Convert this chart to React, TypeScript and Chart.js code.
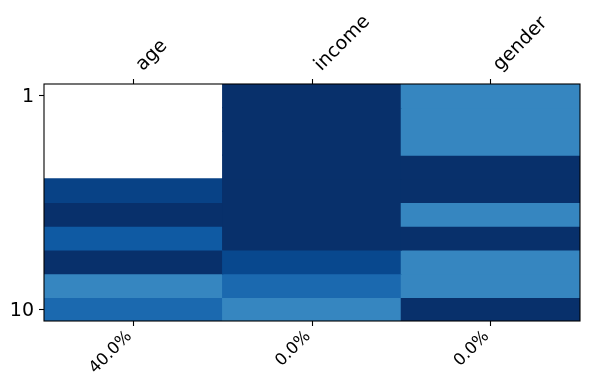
import React, { useEffect, useRef } from "react";
import { Chart, registerables } from "chart.js";

Chart.register(...registerables);

const columns = ["age", "income", "gender"];
const missingLabels = ["40.0%", "0.0%", "0.0%"];
const rowNumbers = [1, 2, 3, 4, 5, 6, 7, 8, 9, 10];
const yTickRows = [1, 10];

// normalized cell values (null = missing)
const ageValues = [null, null, null, null, 0.93, 1.0, 0.84, 1.0, 0.67, 0.78];
const incomeValues = [1.0, 1.0, 1.0, 1.0, 1.0, 1.0, 1.0, 0.91, 0.78, 0.67];
const genderValues = [0.67, 0.67, 0.67, 1.0, 1.0, 0.67, 1.0, 0.67, 0.67, 1.0];

const columnValues = [ageValues, incomeValues, genderValues];

const bluesStops = [
  "#f7fbff", "#deebf7", "#c6dbef", "#9ecae1", "#6baed6",
  "#4292c6", "#2171b5", "#08519c", "#08306b",
];

function hexToRgb(h: string) {
  const n = parseInt(h.slice(1), 16);
  return [(n >> 16) & 255, (n >> 8) & 255, n & 255];
}

function blues(v: number) {
  const t = Math.max(0, Math.min(1, v)) * (bluesStops.length - 1);
  const i = Math.min(Math.floor(t), bluesStops.length - 2);
  const f = t - i;
  const a = hexToRgb(bluesStops[i]);
  const b = hexToRgb(bluesStops[i + 1]);
  const c = a.map((x, k) => Math.round(x + (b[k] - x) * f));
  return `rgb(${c[0]},${c[1]},${c[2]})`;
}

const framePlugin = {
  id: "frame",
  afterDatasetsDraw(chart: any) {
    const { ctx, chartArea } = chart;
    ctx.save();
    ctx.strokeStyle = "#000";
    ctx.lineWidth = 1.1;
    ctx.strokeRect(chartArea.left, chartArea.top, chartArea.right - chartArea.left, chartArea.bottom - chartArea.top);
    ctx.restore();
  },
};

export default function App() {
  const ref = useRef<HTMLCanvasElement>(null);

  useEffect(() => {
    if (!ref.current) return;
    const datasets = rowNumbers.map((r, ri) => ({
      label: "row " + r,
      data: columnValues.map((col) => (col[ri] == null ? null : [r - 0.5, r + 0.5])),
      backgroundColor: columnValues.map((col) => (col[ri] == null ? "rgba(0,0,0,0)" : blues(col[ri] as number))),
      borderWidth: 0,
      inflateAmount: 0.6,
      barPercentage: 1,
      categoryPercentage: 1,
      grouped: false,
      xAxisID: "x",
      yAxisID: "y",
    }));

    const font = { family: "DejaVu Sans", size: 19 };
    const chart = new Chart(ref.current, {
      type: "bar",
      data: { labels: columns, datasets: datasets as any },
      plugins: [framePlugin],
      options: {
        animation: false,
        responsive: false,
        maintainAspectRatio: false,
        layout: { padding: { left: 0, right: 10, top: 0, bottom: 0 } },
        plugins: { legend: { display: false }, tooltip: { enabled: false } },
        scales: {
          x: {
            type: "category",
            position: "bottom",
            labels: missingLabels,
            offset: true,
            grid: { drawOnChartArea: false, offset: false, tickLength: 5, color: "#000", tickWidth: 1.1 },
            border: { display: false },
            ticks: { color: "#000", font: { family: "DejaVu Sans", size: 16.5 }, minRotation: 45, maxRotation: 45, padding: 1, labelOffset: -4 },
            afterFit: (s: any) => { s.height = 69; },
          },
          x2: {
            type: "category",
            position: "top",
            labels: columns,
            offset: true,
            grid: { drawOnChartArea: false, offset: false, tickLength: 5, color: "#000", tickWidth: 1.1 },
            border: { display: false },
            ticks: { color: "#000", font, minRotation: 45, maxRotation: 45, padding: 3, labelOffset: 22 },
            afterFit: (s: any) => { s.height = 84; },
          },
          y: {
            type: "linear",
            reverse: true,
            min: 0.5,
            max: 10.5,
            grid: { drawOnChartArea: false, tickLength: 5, color: "#000", tickWidth: 1.1 },
            border: { display: false },
            ticks: { color: "#000", font, padding: 5, labelOffset: 1.5, callback: (v: any) => String(v) },
            afterBuildTicks: (s: any) => { s.ticks = yTickRows.map((v) => ({ value: v })); },
            afterFit: (s: any) => { s.width = 44; },
          },
        },
      } as any,
    });
    return () => chart.destroy();
  }, []);

  return (
    <div style={{ position: "fixed", left: 0, top: 0, width: 590, height: 390, background: "#fff" }}>
      <canvas ref={ref} width={590} height={390} style={{ width: 590, height: 390 }} />
    </div>
  );
}
